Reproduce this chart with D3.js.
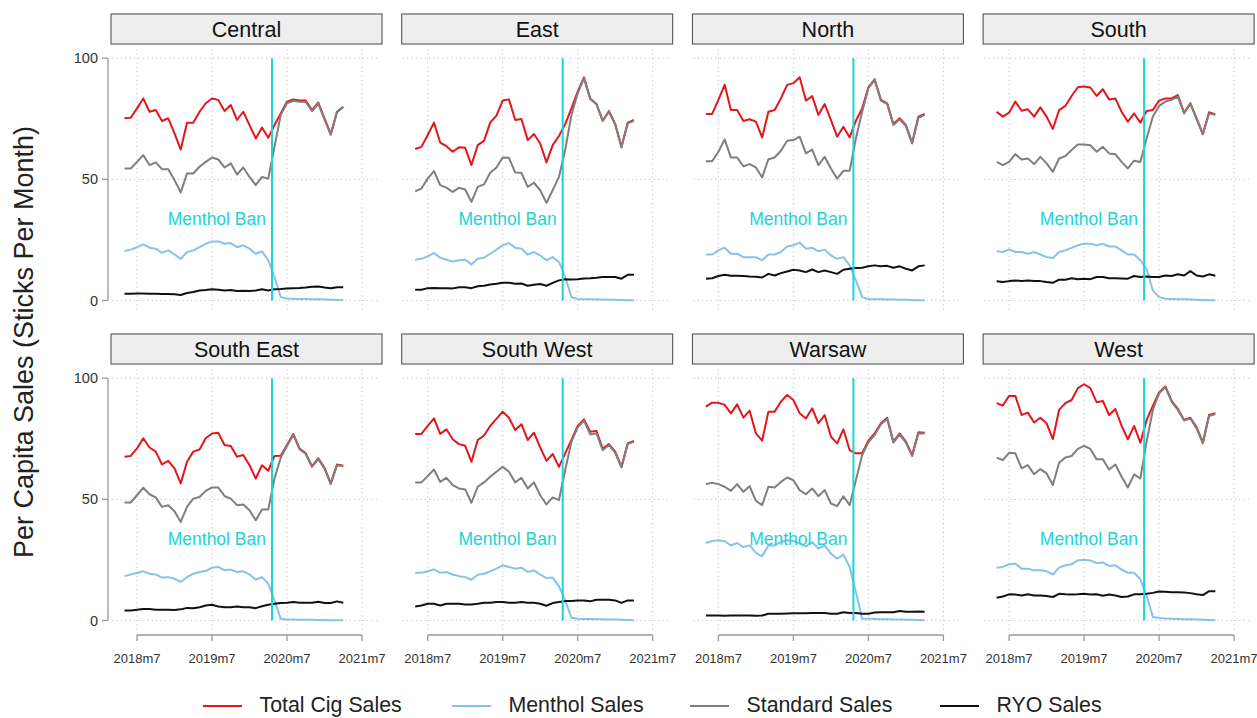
<!DOCTYPE html>
<html><head><meta charset="utf-8">
<script src="https://cdn.jsdelivr.net/npm/d3@7"></script>
<style>body{margin:0;background:#fff;} svg{display:block;font-family:"Liberation Sans",Arial,sans-serif;}</style>
</head><body><svg id="chart" width="1257" height="718"></svg>
<script>
const regions = ["Central","East","North","South","South East","South West","Warsaw","West"];
const months = ["2018m5","2018m6","2018m7","2018m8","2018m9","2018m10","2018m11","2018m12",
  "2019m1","2019m2","2019m3","2019m4","2019m5","2019m6","2019m7","2019m8","2019m9","2019m10","2019m11","2019m12",
  "2020m1","2020m2","2020m3","2020m4","2020m5","2020m6","2020m7","2020m8","2020m9","2020m10","2020m11","2020m12",
  "2021m1","2021m2","2021m3","2021m4"];
const xTicks = ["2018m7","2019m7","2020m7","2021m7"];
const yTicks = [0,50,100];
const banLabel = "Menthol Ban";
const banMonth = "2020m4.6";
const seriesNames = ["Total Cig Sales","Menthol Sales","Standard Sales","RYO Sales"];
const seriesColors = ["#e3161c","#86c2ee","#7f7f7f","#111111"];

const totalSales = [
 [75.2,75.4,79.3,83.4,77.9,78.6,74.1,75.2,69,62.3,73.4,73.4,77.9,81.4,83.4,82.8,78.2,80.7,74.5,77.9,72.4,66.9,71.4,67.2,72.4,77.2,82.1,83,82.5,82.5,78.6,81.7,75.2,68.7,77.9,80],
 [62.5,63.4,68.3,73.4,65.2,63.7,61.4,63.2,63,55.9,64.1,65.9,73.4,76.3,82.5,83,74.5,74.9,66.2,68.7,64.8,57,64.1,67.9,72.8,79.3,86.2,92.1,83.4,81.1,74.2,78.2,72.8,63.4,73.4,74.5],
 [77,77,82.8,89,78.6,78.6,74.1,74.8,73.8,67.3,77.9,78.6,83.4,89,89.7,92.1,82.5,84.4,76.6,81.1,74.5,67.6,71.7,67.3,74.2,79.3,88,91.3,82.8,81.4,72.8,75.2,72.4,65.1,75.9,77],
 [77.9,75.9,77.5,82.1,78.3,78.9,75.9,79.7,75.9,70.8,78.6,80.3,84.4,88,88.3,87.9,84.4,87.2,83,83.4,77.9,73.8,77.2,73.4,78.2,78.6,82.5,83.4,83.4,84.8,77.5,81.4,75.2,68.7,77.7,76.8],
 [67.6,67.9,71,75.2,71.4,69.7,64.4,65.9,62.8,56.6,65.5,69.7,70.6,75.2,77.2,77.5,72.4,72,67.6,68.3,64.1,58.6,64.1,61.8,67.9,68,72.4,77,71,69,63.7,66.9,63,56.6,64.4,63.9],
 [77,77,80.3,83.4,77,78.9,74.8,72.8,72.1,65.5,74.5,76.3,80.3,83.2,86.2,83.7,78.6,81,74.5,77.5,71.4,65.9,68.7,63.4,69,74.5,80.3,83,77.9,78.2,71,72.8,69.7,63.4,73.1,74.1],
 [88.3,89.9,89.9,89,85.5,89.2,83.7,86.6,77.2,74.2,86.2,86.2,90.3,93.1,91,85.5,83.4,87.6,81.4,84.8,75.9,73.1,78.9,70.3,69,69,74.2,77.2,81.4,83.7,73.8,77.2,73.8,68.3,77.7,77.5],
 [89.7,88.7,92.7,92.7,84.8,85.8,81.7,83.7,81.4,74.9,86.9,89.7,91,95.9,97.5,95.9,90.1,90.6,84.8,87.3,80.3,74.8,80.3,73.4,82.8,88.6,94.1,96.6,90.6,87.3,82.8,83.7,79.7,73.5,84.8,85.5]
];
const mentholSales = [
 [20.4,21,22,23.2,21.8,21.4,19.7,20.7,19,17.2,20,20.7,22,23.4,24.4,24.4,23.4,23.7,22,22.8,21.4,19.3,20.3,16.6,9.7,1.4,0.8,0.7,0.6,0.6,0.5,0.5,0.4,0.3,0.2,0.1],
 [16.8,17.2,18.2,19.6,17.7,16.8,16.1,16.6,16.8,14.9,17.2,17.7,19.3,21,22.8,23.7,21.8,21.4,18.9,20,18.6,16.6,17.9,15.9,9.7,1.4,0.6,0.5,0.5,0.4,0.4,0.3,0.3,0.2,0.1,0.1],
 [19,19,20.7,21.8,19.3,19.3,17.9,17.9,17.9,16.6,19,19,20,22.3,22.8,23.9,21.4,21.8,20.3,21,18.6,17.2,17.9,14.5,8.3,1.4,0.6,0.5,0.5,0.4,0.4,0.3,0.3,0.2,0.1,0.1],
 [20.3,20,21.1,20,20,19.3,20,19,17.9,17.5,20,20.7,21.7,22.8,23.4,23.4,22.8,23.4,22.3,22.3,20.7,19,19,16.6,13.1,4.1,1.4,0.7,0.6,0.5,0.5,0.4,0.3,0.2,0.1,0.1],
 [18.3,19,19.6,20.3,19.3,19,17.7,17.9,17.2,15.9,17.9,19.3,20,20.4,21.8,22.1,20.7,21,20,20.3,19,16.8,17.9,15.2,8.3,0.7,0.4,0.4,0.3,0.3,0.3,0.2,0.2,0.1,0.1,0.1],
 [19.7,19.7,20.3,21.1,19.7,20,19,18.3,17.9,16.8,18.9,19.3,20.3,21.4,22.8,22.1,21.4,21.8,20,20.7,19,17.5,17.7,14.1,8.3,1.1,0.7,0.6,0.6,0.5,0.5,0.4,0.4,0.3,0.2,0.1],
 [32,32.8,33.1,32.7,31,32,30.3,31,27.9,26.5,31,31,32.4,33.1,32.8,31.7,30.6,32.4,29.7,31,27.6,25.5,27.2,22.1,11.7,0.7,0.7,0.6,0.5,0.5,0.4,0.4,0.3,0.3,0.2,0.1],
 [21.8,22.1,23.2,23.4,21.4,21.4,20.7,20.7,20.3,19,21.8,22.8,23.2,24.8,25.1,24.8,23.7,23.9,22.5,22.8,21,19.7,19.7,17,10.3,1.4,1,0.8,0.7,0.6,0.5,0.5,0.4,0.3,0.2,0.1]
];
const standardSales = [
 [54.5,54.5,57.2,60,55.9,57,54.2,54.2,49.7,44.6,52.4,52.4,55.2,57.2,59,58.2,54.9,56.6,52,54.9,51,47.6,51,50.3,63.4,76.6,81.4,82.4,82,81.9,78.1,81.2,74.8,68.4,77.7,79.9],
 [45.1,46.2,50.3,53.4,47.6,46.6,44.8,46.5,45.8,40.7,46.9,47.9,52.7,54.9,59,58.9,52.8,52.7,46.9,48.6,45.5,40.3,45.5,51,62.1,76.6,85.5,91.7,83.2,81,74.1,77.9,72.7,63.2,73.1,74.2],
 [57.5,57.5,61.4,66.5,59,59,55.4,56.3,54.9,50.8,58.3,59,61.8,65.9,66.2,67.6,60.7,62.3,55.9,59.3,54.5,50.3,53.5,53.5,66.9,77.9,87.6,91,82.5,81.1,72.4,74.8,72,64.8,75.4,76.6],
 [57.2,55.9,57.2,60.4,58.2,58.6,56.3,59.3,56.6,53.1,58.6,59.6,62.1,64.4,64.4,64.1,61.4,63.4,60.7,60.4,57.2,54.5,57.7,57.2,66.9,75.9,80.3,82.1,82.8,84.1,77.2,81.4,74.9,68.6,77.2,76.6],
 [48.7,48.7,51.7,54.8,52.1,50.8,46.9,47.6,45.1,40.7,46.9,50.3,51,53.5,54.9,54.9,51.4,50.3,47.6,47.9,45.5,41.4,45.8,45.8,58.6,67.3,72,76.6,70.7,68.7,63.4,66.6,62.8,56.3,64.1,63.7],
 [57,57,59.6,62.3,57.2,58.9,55.9,54.5,54.1,48.6,55.2,57,59.3,61.4,63.4,61.4,57,58.9,54.5,57,51.7,47.9,50.8,49.7,62.1,73.8,79.7,82.5,76.8,77.2,70.3,72.4,69.2,63.2,72.8,73.8],
 [56.3,56.8,56.3,55.2,53.5,56.3,53.1,55.4,49.4,47.6,55.2,54.9,57.2,59,57.9,53.8,52.1,54.5,51.3,53.8,48.3,47.2,51.3,47.6,57.9,68.3,73.5,76.6,81,83.2,73.4,76.8,73.4,67.9,77.2,77.2],
 [67.2,66.2,69.2,69,62.8,64.1,60.4,62.5,60.7,55.9,65.1,67.3,67.9,70.8,72.1,70.8,66.5,66.5,62.3,64.4,59.3,54.9,60.3,58.6,73.8,86.9,93.8,96.3,90.3,86.9,82.5,83.4,79.3,73.1,84.4,85.2]
];
const ryoSales = [
 [2.8,2.8,2.9,2.9,2.8,2.8,2.7,2.7,2.6,2.3,3.1,3.5,4.1,4.3,4.6,4.4,4.1,4.3,3.9,4,3.9,4.1,4.6,4.1,4.6,4.7,5,5.1,5.2,5.4,5.7,5.8,5.4,5.1,5.5,5.5],
 [4.4,4.4,5.1,5.2,5.1,5.1,5,5.5,5.5,5.1,5.9,6.1,6.6,6.9,7.3,7.3,6.9,7,6.1,6.5,6.8,6.1,7.3,8.3,8.8,8.7,8.8,9.1,9.2,9.4,9.7,9.7,9.7,9,10.6,10.6],
 [9,9.2,10.1,10.6,10.2,10.2,10.1,9.9,9.8,9.5,11,10.3,11.3,12,12.7,12.4,11.7,12.8,11.7,12.4,11.7,11,12.7,13.1,13.4,13.5,14.1,14.5,14.1,14.3,13.5,14.1,13.1,12.4,14.1,14.5],
 [7.9,7.6,8,8.3,8,8.3,8,8,7.6,7.3,8.6,8.6,9.2,8.8,9,8.8,9.7,9.7,9.2,9.2,9.1,9,10.1,9.7,9.9,9.7,9.7,10.3,10.1,10.8,10.3,12.1,10.3,9.9,10.8,10.2],
 [4.1,4.1,4.4,4.7,4.7,4.4,4.4,4.4,4.3,4.6,5.2,5.1,5.5,6.2,6.5,5.8,5.5,5.5,5.8,5.5,5.5,5.1,5.9,6.5,6.9,7.2,7.3,7.6,7.3,7.3,7.3,7.7,7.2,7.2,7.9,7.3],
 [5.8,6.2,6.9,6.9,6.2,6.9,6.9,6.9,6.6,6.6,6.9,7.3,7.3,7.6,7.6,7.3,7.3,7.6,7.3,7.3,6.9,6.1,7.2,7.6,8,8,8.3,8.3,7.9,8.6,8.6,8.6,8.3,7.3,8.3,8.3],
 [2.1,2.1,2.1,2,2.1,2.1,2.1,2.1,2,2.1,2.8,2.8,2.8,2.9,3,3,3,3.1,3.1,3.1,2.8,2.8,3.4,3.1,3.1,2.8,2.8,3.3,3.4,3.4,3.4,3.9,3.6,3.6,3.7,3.6],
 [9.4,9.9,10.8,10.7,10.3,10.8,10.3,10.3,10.1,9.7,11,10.8,10.7,10.8,11,10.7,10.8,10.2,10.7,10.3,9.7,9.9,10.8,10.8,11,11.4,12,11.9,11.7,11.7,11.6,11.3,10.8,10.5,12.1,12.1]
];
const allSeries = [totalSales, mentholSales, standardSales, ryoSales];

// ---------- layout ----------
function monthNum(s){ const [y,m] = s.split("m"); return (+y-2018)*12 + (+m) - 1; }
const svg = d3.select("#chart");
const panelW = 271, stripH = 30;
const colLeft = c => 111 + c*290.7;
const rowTop = r => 14 + r*320;          // strip top
const plotTop = 33, plotH = 265;          // relative to strip top
const x = d3.scaleLinear().domain([1.84, 45.2]).range([0, panelW]);
const y = d3.scaleLinear().domain([0,100]).range([286.5, 44.2]); // relative to strip top
const line = d3.line().x((d,i)=>x(monthNum(months[i]))).y(d=>y(d));

regions.forEach((reg, k) => {
  const r = Math.floor(k/4), c = k%4;
  const g = svg.append("g").attr("transform", `translate(${colLeft(c)},${rowTop(r)})`);
  // strip
  g.append("rect").attr("x",0).attr("y",0).attr("width",panelW).attr("height",stripH)
    .attr("fill","#eeeeee").attr("stroke","#444").attr("stroke-width",1);
  g.append("text").attr("x",panelW/2).attr("y",stripH/2+7.5).attr("text-anchor","middle")
    .attr("font-size",21.5).attr("fill","#111").text(reg);
  // grid
  const grid = g.append("g").attr("stroke","#c4c4c4").attr("stroke-width",1).attr("stroke-dasharray","1.2,3.2");
  yTicks.forEach(t => grid.append("line").attr("x1",1).attr("x2",panelW-4).attr("y1",y(t)).attr("y2",y(t)));
  xTicks.forEach(t => grid.append("line").attr("x1",x(monthNum(t))).attr("x2",x(monthNum(t)))
    .attr("y1",plotTop+2).attr("y2",plotTop+plotH));
  // series
  allSeries.forEach((s, si) => {
    g.append("path").datum(s[k]).attr("d", line).attr("fill","none")
      .attr("stroke", seriesColors[si]).attr("stroke-width",2).attr("stroke-linejoin","round");
  });
  // ban line
  const bx = x(monthNum(banMonth.split(".")[0]) + (+("0."+banMonth.split(".")[1])));
  g.append("line").attr("x1",bx).attr("x2",bx).attr("y1",y(100)).attr("y2",y(0))
    .attr("stroke","#1ed3d6").attr("stroke-width",2);
  g.append("text").attr("x",bx-6).attr("y",y(31)).attr("text-anchor","end")
    .attr("font-size",17.5).attr("fill","#1ed3d6").text(banLabel);
  // y axis (left column)
  if (c === 0) {
    const ya = g.append("g").attr("transform","translate(-3,0)");
    ya.append("line").attr("x1",0).attr("x2",0).attr("y1",y(100)).attr("y2",y(0)).attr("stroke","#999").attr("stroke-width",1.3);
    yTicks.forEach(t => {
      ya.append("line").attr("x1",-6).attr("x2",0).attr("y1",y(t)).attr("y2",y(t)).attr("stroke","#999").attr("stroke-width",1.3);
      ya.append("text").attr("x",-10).attr("y",y(t)+5).attr("text-anchor","end").attr("font-size",14.5).attr("fill","#333").text(t);
    });
  }
  // x axis (bottom row)
  if (r === 1) {
    const xa = g.append("g").attr("transform",`translate(0,${plotTop+plotH+3})`);
    xa.append("line").attr("x1",x(monthNum(xTicks[0]))).attr("x2",x(monthNum(xTicks[xTicks.length-1])))
      .attr("stroke","#999").attr("stroke-width",1.3);
    xTicks.forEach(t => {
      xa.append("line").attr("x1",x(monthNum(t))).attr("x2",x(monthNum(t))).attr("y1",0).attr("y2",6).attr("stroke","#999").attr("stroke-width",1.3);
      xa.append("text").attr("x",x(monthNum(t))).attr("y",28).attr("text-anchor","middle").attr("font-size",13).attr("fill","#333").text(t);
    });
  }
});

// y title
svg.append("text").attr("transform","translate(33,342) rotate(-90)").attr("text-anchor","middle")
  .attr("font-size",27).attr("fill","#222").text("Per Capita Sales (Sticks Per Month)");

// legend
const legX = [203, 452, 690, 940];
seriesNames.forEach((n,i) => {
  svg.append("line").attr("x1",legX[i]).attr("x2",legX[i]+39).attr("y1",706).attr("y2",706)
    .attr("stroke",seriesColors[i]).attr("stroke-width",2.2);
  svg.append("text").attr("transform",`translate(${legX[i]+56.5},712) scale(0.97,1)`)
    .attr("font-size",22).attr("fill","#222").text(n);
});
</script></body></html>
